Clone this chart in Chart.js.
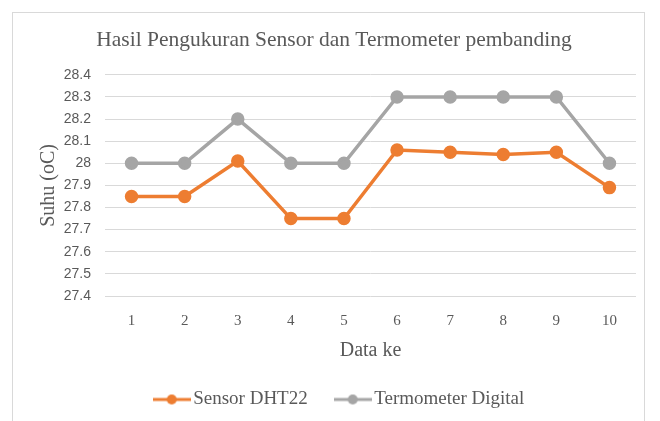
<!DOCTYPE html>
<html>
<head>
<meta charset="utf-8">
<script src="https://cdn.jsdelivr.net/npm/chart.js@4/dist/chart.umd.min.js"></script>
<style>
html,body{margin:0;padding:0;background:#fff;}
#wrap{width:660px;height:421px;position:relative;}
</style>
</head>
<body>
<div id="wrap"><canvas id="c" width="660" height="421"></canvas></div>
<script>
const categories = ['1','2','3','4','5','6','7','8','9','10'];
const sensorDHT22 = [27.85, 27.85, 28.01, 27.75, 27.75, 28.06, 28.05, 28.04, 28.05, 27.89];
const termometerDigital = [28.0, 28.0, 28.2, 28.0, 28.0, 28.3, 28.3, 28.3, 28.3, 28.0];
const seriesNames = ['Sensor DHT22', 'Termometer Digital'];
const chartTitle = 'Hasil Pengukuran Sensor dan Termometer pembanding';
const xTitle = 'Data ke';
const yTitle = 'Suhu (oC)';

const ORANGE = '#ED7D31';
const GRAY = '#A5A5A5';
const TEXT = '#595959';
const SERIF = "'Liberation Serif', 'Times New Roman', serif";
const SANS = "'Liberation Sans', Arial, sans-serif";

function legendMarker(color){
  const cv = document.createElement('canvas');
  cv.width = 38; cv.height = 12;
  const g = cv.getContext('2d');
  g.strokeStyle = color; g.lineWidth = 3;
  g.beginPath(); g.moveTo(0,6); g.lineTo(38,6); g.stroke();
  g.fillStyle = color;
  g.beginPath(); g.arc(19,6,5,0,Math.PI*2); g.fill();
  return cv;
}

const frame = {
  id:'frame',
  beforeDraw(chart){
    const ctx = chart.ctx;
    ctx.save();
    ctx.fillStyle = '#fff';
    ctx.fillRect(0,0,chart.width,chart.height);
    ctx.strokeStyle = '#D9D9D9';
    ctx.lineWidth = 1;
    ctx.strokeRect(12.5,12.5,632,430);
    ctx.restore();
  }
};

const legendShift = {
  id:'legendShift',
  afterLayout(chart){
    if (chart.legend) { chart.legend.left += 8; chart.legend.right += 8; }
  }
};

new Chart(document.getElementById('c'), {
  type:'line',
  data:{
    labels: categories,
    datasets:[
      {label: seriesNames[0], data: sensorDHT22, borderColor: ORANGE, backgroundColor: ORANGE,
       borderWidth:3.5, pointRadius:5, pointBackgroundColor: ORANGE, pointBorderColor: ORANGE,
       tension:0, pointStyle:'circle'},
      {label: seriesNames[1], data: termometerDigital, borderColor: GRAY, backgroundColor: GRAY,
       borderWidth:3.5, pointRadius:5, pointBackgroundColor: GRAY, pointBorderColor: GRAY,
       tension:0, pointStyle:'circle'}
    ]
  },
  options:{
    responsive:false,
    animation:false,
    layout:{padding:{left:32,right:24,top:0,bottom:2}},
    plugins:{
      title:{display:true, text: chartTitle, color: TEXT,
        font:{family: SERIF, size:21.5, weight:'normal'}, padding:{top:27,bottom:22}},
      legend:{position:'bottom',
        labels:{usePointStyle:true, pointStyleWidth:24, padding:33, color: TEXT,
          font:{family: SERIF, size:19},
          generateLabels(chart){
            return chart.data.datasets.map((ds,i)=>({
              text: ds.label, fontColor: TEXT, pointStyle: legendMarker(ds.borderColor),
              datasetIndex:i, hidden:false, lineWidth:0, strokeStyle:'transparent', fillStyle:'transparent'
            }));
          }
        }
      },
      tooltip:{enabled:false}
    },
    scales:{
      x:{
        offset:true,
        grid:{display:false, drawTicks:false},
        border:{display:false},
        ticks:{color: TEXT, font:{family: SERIF, size:15}, padding:16},
        title:{display:true, text:xTitle, color: TEXT, font:{family: SERIF, size:20}, padding:{top:0,bottom:-6}},
        afterFit(s){ s.height = 61; }
      },
      y:{
        min:27.4, max:28.4,
        grid:{color:'#D9D9D9', drawTicks:false, lineWidth:1},
        border:{display:false},
        ticks:{stepSize:0.1, autoSkip:false, color: TEXT, font:{family: SANS, size:14}, padding:14,
          callback(v){ return Math.round(v*10)/10; }},
        title:{display:true, text:yTitle, color: TEXT, font:{family: SERIF, size:20}, padding:{top:5,bottom:0}},
        afterFit(s){ s.width = 73; }
      }
    }
  },
  plugins:[frame, legendShift]
});
</script>
</body>
</html>
